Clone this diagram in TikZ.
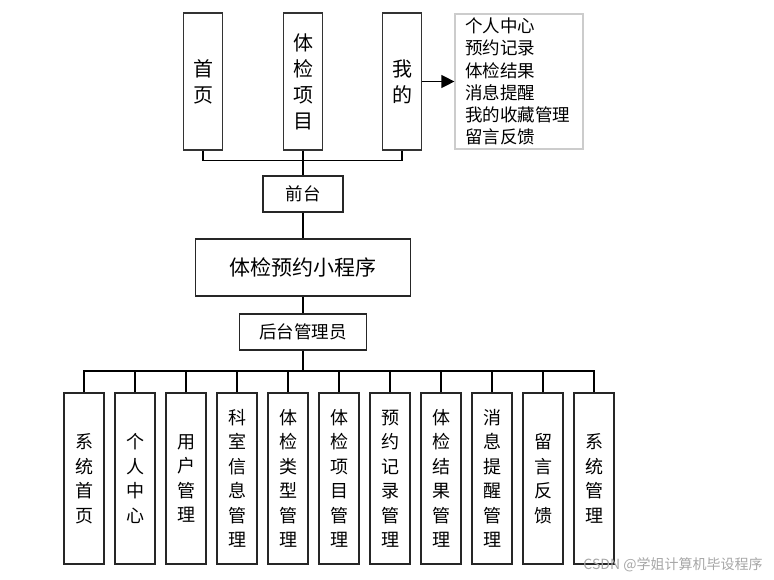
\documentclass[tikz,border=0pt]{standalone}
\usepackage{fontspec}
\setmainfont{Noto Sans CJK SC}
\usetikzlibrary{arrows.meta}

\begin{document}
\begin{tikzpicture}[x=1pt, y=-1pt, line width=1.2pt,
  arriba/.style={draw=black!80, line width=1.4pt, minimum width=39pt, minimum height=137pt, inner sep=0pt,
    align=center, font=\fontsize{20}{26}\selectfont},
  abajo/.style={draw=black!85, minimum width=40pt, minimum height=171pt, inner sep=0pt,
    align=center, font=\fontsize{18}{24.5}\selectfont},
  rotulo/.style={draw=black!85, inner sep=0pt, font=\fontsize{17.5}{19}\selectfont}]
  \useasboundingbox (0,0) rectangle (774,579);

  % parte de arriba
  \node[arriba] (inicio) at (203,81.5) {首\\页};
  \node[arriba] (proyecto) at (303,81.5) {体\\检\\项\\目};
  \node[arriba] (mio) at (402,81.5) {我\\的};
  \node[draw=black!20, minimum width=128pt, minimum height=135pt, inner xsep=10pt,
    text width=108pt, align=left, font=\fontsize{17.5}{22.2}\selectfont] (lista) at (519,81.5)
    {个人中心\\预约记录\\体检结果\\消息提醒\\我的收藏管理\\留言反馈};
  \draw[-{Triangle[length=13pt,width=13pt]}] (mio.east) -- (lista.west);

  \node[rotulo, minimum width=80pt, minimum height=36pt] (front) at (303,194) {前台};
  \node[rotulo, minimum width=215pt, minimum height=57pt, font=\fontsize{21}{23}\selectfont]
    (app) at (303,267.5) {体检预约小程序};
  \node[rotulo, minimum width=127pt, minimum height=36pt] (admin) at (303,332) {后台管理员};

  \draw (inicio.south) -- ++(0,10) -| (mio.south);
  \draw (proyecto.south) -- (front.north);
  \draw (front.south) -- (app.north);
  \draw (app.south) -- (admin.north);

  % parte de abajo
  \node[abajo] (m1) at (84,478.5) {系\\统\\首\\页};
  \node[abajo] (m2) at (135,478.5) {个\\人\\中\\心};
  \node[abajo] (m3) at (186,478.5) {用\\户\\管\\理};
  \node[abajo] (m4) at (237,478.5) {科\\室\\信\\息\\管\\理};
  \node[abajo] (m5) at (288,478.5) {体\\检\\类\\型\\管\\理};
  \node[abajo] (m6) at (339,478.5) {体\\检\\项\\目\\管\\理};
  \node[abajo] (m7) at (390,478.5) {预\\约\\记\\录\\管\\理};
  \node[abajo] (m8) at (441,478.5) {体\\检\\结\\果\\管\\理};
  \node[abajo] (m9) at (492,478.5) {消\\息\\提\\醒\\管\\理};
  \node[abajo] (m10) at (543,478.5) {留\\言\\反\\馈};
  \node[abajo] (m11) at (594,478.5) {系\\统\\管\\理};

  \coordinate (bus) at (303,371);
  \draw (admin.south) -- (bus);
  \draw (m1.north) -- (m1.north |- bus) -| (m11.north);
  \foreach \i in {2,...,10}
    \draw (m\i.north) -- (m\i.north |- bus);

  \node[text=black!35, font=\fontsize{14}{16}\selectfont] (marca) at (673,565) {CSDN @学姐计算机毕设程序};
\end{tikzpicture}
\end{document}
